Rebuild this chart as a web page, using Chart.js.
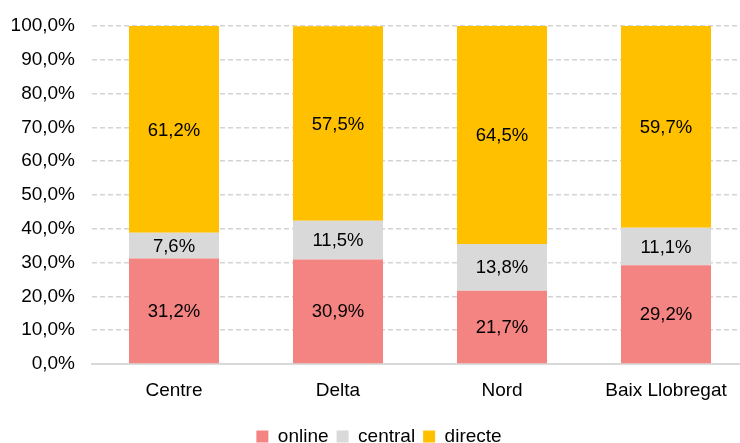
<!DOCTYPE html>
<html>
<head>
<meta charset="utf-8">
<script src="https://cdn.jsdelivr.net/npm/chart.js@4/dist/chart.umd.min.js"></script>
<style>
  html, body { margin: 0; padding: 0; background: #fff; overflow: hidden; }
  #wrap { width: 748px; height: 443px; }
</style>
</head>
<body>
<div id="wrap"><canvas id="grafica"></canvas></div>
<script>
const categories = ["Centre", "Delta", "Nord", "Baix Llobregat"];
const online = [31.2, 30.9, 21.7, 29.2];
const central = [7.6, 11.5, 13.8, 11.1];
const directe = [61.2, 57.5, 64.5, 59.7];
const yTicks = [0, 10, 20, 30, 40, 50, 60, 70, 80, 90, 100];

const fmt = v => v.toFixed(1).replace(".", ",") + "%";
const fontFam = "'Liberation Sans', Arial, sans-serif";

// etiquetes dins de les barres
const etiquetes = {
    id: "etiquetes",
    afterDatasetsDraw(chart) {
        const ctx = chart.ctx;
        ctx.save();
        ctx.font = "18.5px " + fontFam;
        ctx.fillStyle = "#000";
        ctx.textAlign = "center";
        ctx.textBaseline = "middle";
        chart.data.datasets.forEach((ds, i) => {
            chart.getDatasetMeta(i).data.forEach((bar, j) => {
                const y = (bar.y + bar.base) / 2;
                ctx.fillText(fmt(ds.data[j]), bar.x, y + 1);
            });
        });
        ctx.restore();
    }
};

new Chart(document.getElementById("grafica").getContext("2d"), {
    type: "bar",
    data: {
        labels: categories,
        datasets: [
            { label: "online", data: online, backgroundColor: "rgb(244, 132, 130)" },
            { label: "central", data: central, backgroundColor: "rgb(217, 217, 217)" },
            { label: "directe", data: directe, backgroundColor: "rgb(255, 192, 0)" }
        ]
    },
    options: {
        responsive: true,
        maintainAspectRatio: false,
        animation: false,
        layout: { padding: { top: 26, right: 0, left: 10, bottom: -13 } },
        datasets: { bar: { categoryPercentage: 1, barPercentage: 0.549 } },
        scales: {
            x: {
                stacked: true,
                grid: { display: false },
                border: { color: "#d9d9d9", width: 2 },
                ticks: { color: "#000", font: { size: 19, family: fontFam }, padding: 7 },
                afterFit: axis => { axis.height = 55; }
            },
            y: {
                stacked: true,
                min: 0,
                max: 100,
                afterBuildTicks: axis => { axis.ticks = yTicks.map(v => ({ value: v })); },
                afterFit: axis => { axis.width = 82; axis.paddingTop = 0; },
                grid: { color: "#d4d4d4", lineWidth: 1.5, drawTicks: false },
                border: { display: false, dash: [5, 3] },
                ticks: {
                    color: "#000",
                    font: { size: 19, family: fontFam },
                    padding: 17,
                    callback: v => fmt(v)
                }
            }
        },
        plugins: {
            legend: {
                position: "bottom",
                labels: {
                    color: "#000",
                    font: { size: 19, family: fontFam },
                    boxWidth: 12,
                    boxHeight: 12,
                    padding: 8
                }
            },
            tooltip: { enabled: false }
        }
    },
    plugins: [etiquetes]
});
</script>
</body>
</html>
